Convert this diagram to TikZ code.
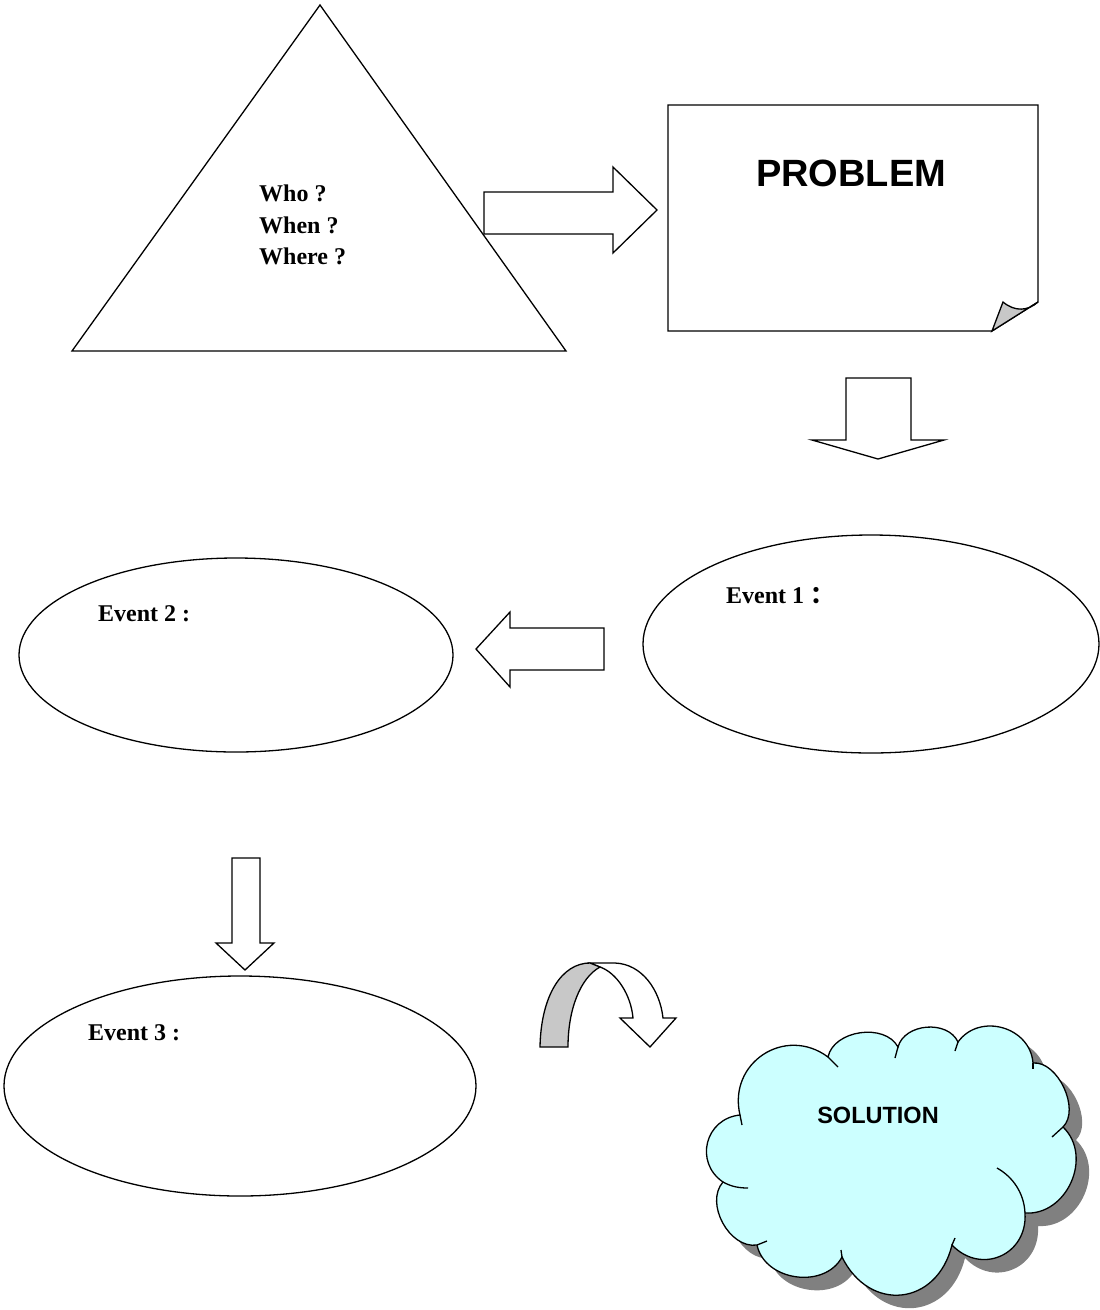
\documentclass[tikz,border=0pt]{standalone}
\usepackage{fontspec}
\setmainfont{Liberation Serif}
\setsansfont{Liberation Sans}
\newfontfamily\cjk{Noto Sans CJK SC}
\usetikzlibrary{shapes.geometric}
\definecolor{cloudfill}{HTML}{CCFFFF}
\definecolor{foldgray}{HTML}{C8C8C8}
\definecolor{shadowgray}{HTML}{808080}
\tikzset{
  outline/.style={draw=black, line width=1.3pt, line join=miter},
  oval/.style={ellipse, outline, fill=white, inner sep=0pt},
  serifbold/.style={font=\fontsize{24}{31.5}\selectfont\bfseries, inner sep=0pt, anchor=west},
  blockarrow/.style={outline, fill=white},
  puff/.style={bend left=70, looseness=#1},
}
\def\cloudpath{(740,1115) to[puff=1.3] (828,1057) to[puff=1.0] (898,1047)
  to[puff=1.05] (958,1042) to[puff=1.2] (1033,1063) to[puff=0.9] (1063,1127)
  to[puff=1.15] (1025,1213) to[puff=1.35] (952,1245) to[puff=1.45] (842,1257)
  to[puff=1.1] (757,1245) to[puff=1.0] (723,1182) to[puff=1.3] (740,1115) -- cycle}
\begin{document}
\begin{tikzpicture}[x=1pt,y=-1pt]
\useasboundingbox (0,0) rectangle (1100,1310);

% triangle
\draw[outline] (320,5) -- (566,351) -- (72,351) -- cycle;
\node[serifbold, align=left, anchor=north west] (who) at (259,185) {Who ?\\When ?\\Where ?};

% right block arrow
\draw[blockarrow] (484,192) -- (613,192) -- (613,167) -- (657,210) -- (613,253) -- (613,234) -- (484,234) -- cycle;

% problem box
\draw[outline, fill=white] (668,105) -- (1038,105) -- (1038,302) -- (992,331) -- (668,331) -- cycle;
\draw[outline, fill=foldgray] (992,331) -- (1003,302) .. controls (1015,312) and (1028,311) .. (1038,302) -- cycle;
\node[font=\sffamily\fontsize{38}{42}\selectfont\bfseries, inner sep=0pt] (problem) at (851,173) {PROBLEM};

% down arrow 1
\draw[blockarrow] (846,378) -- (911,378) -- (911,440) -- (944,440) -- (878,459) -- (812,440) -- (846,440) -- cycle;

% event 1
\node[oval, minimum width=456pt, minimum height=218pt] (e1) at (871,644) {};
\node[serifbold] (t1) at (726,596) {Event 1\hspace{6pt}{\cjk ：}};

% left arrow
\draw[blockarrow] (604,628) -- (510,628) -- (510,612) -- (476,649) -- (510,687) -- (510,670) -- (604,670) -- cycle;

% event 2
\node[oval, minimum width=434pt, minimum height=194pt] (e2) at (236,655) {};
\node[serifbold] (t2) at (98,614) {Event 2 :};

% down arrow 2
\draw[blockarrow] (232,858) -- (260,858) -- (260,943) -- (274,943) -- (245,970) -- (216,943) -- (232,943) -- cycle;

% event 3
\node[oval, minimum width=472pt, minimum height=220pt] (e3) at (240,1086) {};
\node[serifbold] (t3) at (88,1033) {Event 3 :};

% curved arrow
\draw[outline, fill=white] (590,963) -- (615,963) .. controls (642,964) and (660,990) .. (663,1018) -- (676,1018) -- (650,1047) -- (620,1018) -- (633,1018) .. controls (631,995) and (617,973) .. (600,967) -- cycle;
\draw[outline, fill=foldgray] (540,1047) .. controls (541,995) and (562,963) .. (590,963) -- (600,967) .. controls (580,978) and (568,1010) .. (568,1047) -- cycle;

% cloud
\fill[shadowgray, shift={(13,13)}] \cloudpath;
\draw[outline, fill=cloudfill] \cloudpath;
\draw[outline] (997,1168) .. controls (1013,1177) and (1024,1193) .. (1025,1213);
\draw[outline] (828,1057) .. controls (832,1061) and (835,1064) .. (838,1067);
\draw[outline] (898,1047) -- (895,1058);
\draw[outline] (958,1042) -- (955,1051);
\draw[outline] (1033,1063) -- (1033,1069);
\draw[outline] (1063,1127) -- (1052,1137);
\draw[outline] (952,1245) -- (955,1238);
\draw[outline] (842,1257) -- (841,1250);
\draw[outline] (757,1245) -- (767,1241);
\draw[outline] (723,1182) .. controls (732,1187) and (740,1188) .. (748,1188);
\draw[outline] (740,1115) -- (742,1125);
\node[font=\sffamily\fontsize{23.5}{26}\selectfont\bfseries, inner sep=0pt] (sol) at (878,1115) {SOLUTION};
\end{tikzpicture}
\end{document}
